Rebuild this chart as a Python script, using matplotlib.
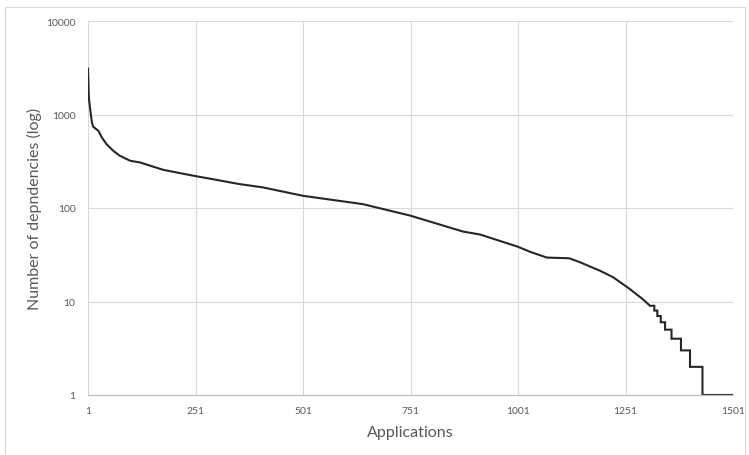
import matplotlib.pyplot as plt
from matplotlib.patches import Rectangle
from matplotlib.ticker import FixedLocator, FixedFormatter, NullLocator

# values (rank of application, number of dependencies)
apps = [1, 2, 3, 6, 10, 13, 25, 33, 44, 60, 75, 99, 122, 145, 176, 215, 254,
        292, 331, 354, 408, 501, 640, 750, 873, 913, 1001, 1029, 1068, 1120,
        1145, 1192, 1222, 1248, 1261, 1291, 1308,
        1318, 1318, 1325, 1325, 1333, 1333, 1343, 1343, 1358, 1358, 1380,
        1380, 1401, 1401, 1430, 1430, 1501]
deps = [3100, 2200, 1500, 1150, 830, 740, 670, 570, 482, 408, 362, 320, 307,
        284, 256, 236, 218, 203, 188, 180, 166, 135, 110, 83, 56, 52, 38.5,
        34, 29.5, 29, 26.3, 21.3, 18.2, 15, 13.6, 10.6, 9,
        9, 8, 8, 7, 7, 6, 6, 5, 5, 4, 4, 3, 3, 2, 2, 1, 1]

x_ticks = [1, 251, 501, 751, 1001, 1251, 1501]
y_ticks = [1, 10, 100, 1000, 10000]
y_labels = ["1", "10", "100", "1000", "10000"]

plt.rcParams['font.family'] = ['Lato', 'DejaVu Sans']

fig = plt.figure(figsize=(7.49, 4.56), dpi=100)
ax = fig.add_axes([88 / 749, 1 - 396 / 456, 645 / 749, 374 / 456])

ax.plot(apps, deps, color="#262626", linewidth=1.5, solid_joinstyle="miter")

ax.set_yscale("log")
ax.set_xlim(1, 1501)
ax.set_ylim(1, 10000)
ax.xaxis.set_major_locator(FixedLocator(x_ticks))
ax.yaxis.set_major_locator(FixedLocator(y_ticks))
ax.yaxis.set_major_formatter(FixedFormatter(y_labels))
ax.yaxis.set_minor_locator(NullLocator())

ax.grid(True, color="#d9d9d9", linewidth=0.8)
ax.set_axisbelow(True)
for side in ["top", "right", "left"]:
    ax.spines[side].set_visible(False)
ax.spines["bottom"].set_color("#bfbfbf")
ax.spines["bottom"].set_linewidth(0.9)

ax.tick_params(axis="both", length=0, labelsize=7.5, labelcolor="#595959")
ax.tick_params(axis="y", pad=9)
ax.tick_params(axis="x", pad=8)

ax.set_xlabel("Applications", fontsize=11.5, color="#595959", labelpad=7)
ax.set_ylabel("Number of depndencies (log)", fontsize=11.5, color="#595959",
              labelpad=3)

# light border of the chart area
fig.patches.append(Rectangle((5 / 749, -0.01), 740 / 749, 1 - 8 / 456 + 0.01,
                             transform=fig.transFigure, fill=False,
                             edgecolor="#d9d9d9", linewidth=0.8))

fig.savefig("out.png", dpi=100)
